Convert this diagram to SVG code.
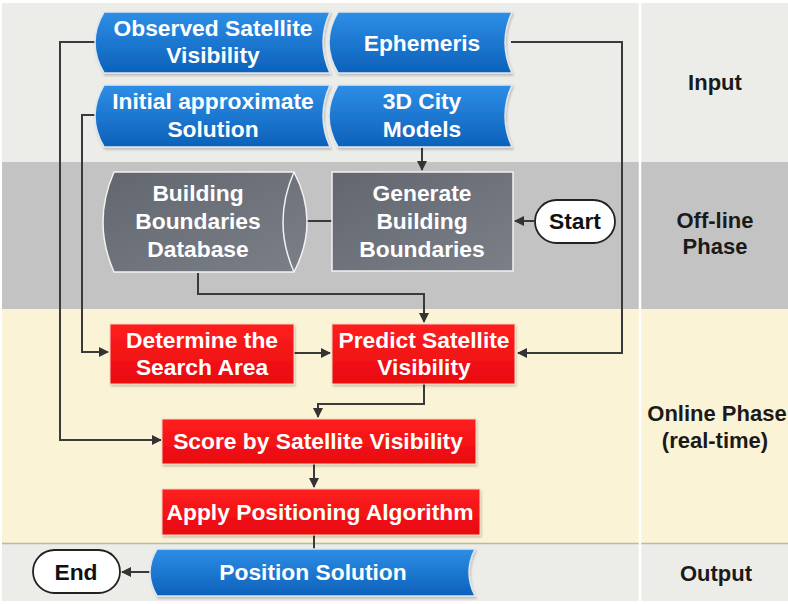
<svg xmlns="http://www.w3.org/2000/svg" width="788" height="604" viewBox="0 0 788 604">
<defs>
<linearGradient id="gBlue" x1="0" y1="0" x2="0" y2="1">
<stop offset="0" stop-color="#2e8ee6"/><stop offset="1" stop-color="#0c61ba"/>
</linearGradient>
<linearGradient id="gRed" x1="0" y1="0" x2="0" y2="1">
<stop offset="0" stop-color="#ff1f1f"/><stop offset="1" stop-color="#e8090f"/>
</linearGradient>
<linearGradient id="gGray" x1="0" y1="0" x2="1" y2="1">
<stop offset="0" stop-color="#62666f"/><stop offset="1" stop-color="#7a7f88"/>
</linearGradient>
<marker id="arr" viewBox="0 0 10 10" refX="9" refY="5" markerWidth="5" markerHeight="5" orient="auto">
<path d="M0,0 L10,5 L0,10 Z" fill="#333"/>
</marker>
<filter id="sh" x="-5%" y="-5%" width="110%" height="120%">
<feDropShadow dx="1" dy="2" stdDeviation="1" flood-color="#000" flood-opacity="0.2"/>
</filter>
</defs>
<style>
.t{font-family:"Liberation Sans",Arial,sans-serif;font-weight:bold;font-size:22.8px;text-anchor:middle;dominant-baseline:central;fill:#fff}
.k{fill:#111}
.lbl{font-family:"Liberation Sans",Arial,sans-serif;font-weight:bold;font-size:22px;text-anchor:middle;dominant-baseline:central;fill:#1a1a1a}
.blue{fill:url(#gBlue);stroke:#dfe6ee;stroke-width:1.5;filter:url(#sh)}
.red{fill:url(#gRed);stroke:#f4d4c4;stroke-width:1;filter:url(#sh)}
.gray{fill:url(#gGray);stroke:#f2f2f2;stroke-width:1.5}
.pill{fill:#fff;stroke:#222;stroke-width:1.8}
.c{fill:none;stroke:#3a3a3a;stroke-width:2}
</style>
<!-- bands -->
<rect x="0" y="0" width="788" height="604" fill="#ffffff"/>
<rect x="2" y="3" width="786" height="159" fill="#ecede8"/>
<rect x="2" y="162" width="786" height="147" fill="#c3c3c3"/>
<rect x="2" y="309" width="786" height="234" fill="#fbf3d6"/>
<rect x="2" y="543" width="786" height="58" fill="#ecede9"/>
<line x1="2" y1="543.5" x2="788" y2="543.5" stroke="#b8b8b0" stroke-width="1.5"/>
<line x1="640" y1="3" x2="640" y2="601" stroke="#ffffff" stroke-width="2.5"/>

<g id="lane-labels">
<text class="lbl" x="715" y="82">Input</text>
<text class="lbl" x="715" y="220">Off-line</text>
<text class="lbl" x="715" y="246">Phase</text>
<text class="lbl" x="717" y="413">Online Phase</text>
<text class="lbl" x="715" y="440">(real-time)</text>
<text class="lbl" x="716" y="573">Output</text>
</g>

<g id="connectors">
<path class="c" d="M97,42 H60 V440 H161" marker-end="url(#arr)"/>
<path class="c" d="M97,115 H82 V352 H108" marker-end="url(#arr)"/>
<path class="c" d="M511,42 H622 V353 H518" marker-end="url(#arr)"/>
<path class="c" d="M422,148 V170" marker-end="url(#arr)"/>
<path class="c" d="M332,221 H290" marker-end="url(#arr)"/>
<path class="c" d="M534,221 H515" marker-end="url(#arr)"/>
<path class="c" d="M198,273 V294 H424 V322" marker-end="url(#arr)"/>
<path class="c" d="M294,353 H330" marker-end="url(#arr)"/>
<path class="c" d="M424,384 V404 H318 V417" marker-end="url(#arr)"/>
<path class="c" d="M314,464 V487" marker-end="url(#arr)"/>
<path class="c" d="M314,535 V549"/>
<path class="c" d="M150,572 H122" marker-end="url(#arr)"/>
</g>

<g id="observed">
<path class="blue" d="M104,12 H330 Q316,42.5 330,73 H104 Q86,42.5 104,12 Z"/>
<text class="t" x="213" y="28">Observed Satellite</text>
<text class="t" x="213" y="55">Visibility</text>
</g>
<g id="ephemeris">
<path class="blue" d="M338,12 H512 Q498,42.5 512,73 H338 Q320,42.5 338,12 Z"/>
<text class="t" x="422" y="43">Ephemeris</text>
</g>
<g id="initial">
<path class="blue" d="M104,85 H330 Q316,116 330,147 H104 Q86,116 104,85 Z"/>
<text class="t" x="213" y="101">Initial approximate</text>
<text class="t" x="213" y="129">Solution</text>
</g>
<g id="city">
<path class="blue" d="M338,85 H512 Q498,116 512,147 H338 Q320,116 338,85 Z"/>
<text class="t" x="422" y="101">3D City</text>
<text class="t" x="422" y="129">Models</text>
</g>

<g id="database">
<path class="gray" d="M114,172 H294 Q320,222 294,272 H114 Q92,222 114,172 Z"/>
<path fill="none" stroke="#f2f2f2" stroke-width="1.5" d="M294,172 Q272,222 294,272"/>
<text class="t" x="198" y="193">Building</text>
<text class="t" x="198" y="221">Boundaries</text>
<text class="t" x="198" y="249">Database</text>
</g>
<g id="generate">
<rect class="gray" x="332" y="172" width="181" height="99"/>
<text class="t" x="422" y="193">Generate</text>
<text class="t" x="422" y="221">Building</text>
<text class="t" x="422" y="249">Boundaries</text>
</g>
<g id="start">
<rect class="pill" x="535" y="200" width="80" height="43" rx="21.5"/>
<text class="t k" x="575" y="221">Start</text>
</g>

<g id="determine">
<rect class="red" x="110" y="324" width="184" height="60"/>
<text class="t" x="202" y="340">Determine the</text>
<text class="t" x="202" y="367">Search Area</text>
</g>
<g id="predict">
<rect class="red" x="332" y="324" width="183" height="60"/>
<text class="t" x="424" y="340">Predict Satellite</text>
<text class="t" x="424" y="367">Visibility</text>
</g>
<g id="score">
<rect class="red" x="162" y="419" width="314" height="45"/>
<text class="t" x="318" y="441">Score by Satellite Visibility</text>
</g>
<g id="apply">
<rect class="red" x="162" y="489" width="318" height="46"/>
<text class="t" x="320" y="512">Apply Positioning Algorithm</text>
</g>

<g id="position">
<path class="blue" d="M157,549 H475 Q463,572.5 475,596 H157 Q143,572.5 157,549 Z"/>
<text class="t" x="313" y="572">Position Solution</text>
</g>
<g id="end">
<rect class="pill" x="33" y="550" width="87" height="43" rx="21.5"/>
<text class="t k" x="76" y="572">End</text>
</g>
</svg>
